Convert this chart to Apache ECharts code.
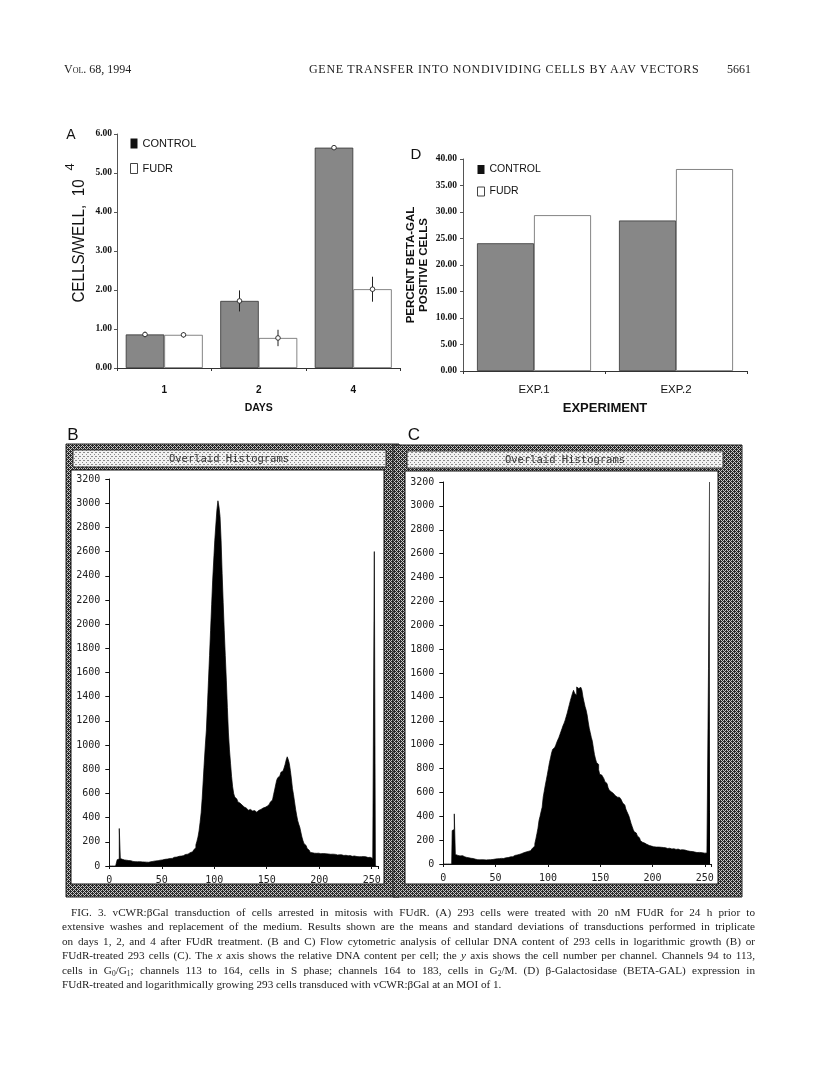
<!DOCTYPE html>
<html>
<head>
<meta charset="utf-8">
<script src="https://cdn.jsdelivr.net/npm/echarts/dist/echarts.min.js"></script>
<style>
  html, body { margin: 0; padding: 0; background: #fff; }
  #wrap { position: relative; width: 816px; height: 1077px; overflow: hidden; }
  #chart { position: absolute; left: 0; top: 0; width: 816px; height: 1077px; }
  .hdr { position: absolute; top: 62px; font-family: "Liberation Serif", serif; font-size: 12px; color: #222; white-space: nowrap; }
  .sc { font-variant: small-caps; }
  #caption { position: absolute; left: 62px; top: 905px; width: 693px; font-family: "Liberation Serif", serif; font-size: 11.2px; color: #222; }
  #caption div { height: 14.4px; line-height: 14.4px; white-space: nowrap; text-align: justify; text-align-last: justify; }
  #caption div.first { padding-left: 9px; }
  #caption div.last { text-align-last: left; }
  sub { font-size: 7.5px; vertical-align: -2px; line-height: 0; }
</style>
</head>
<body>
<div id="wrap">
  <div id="chart"></div>
  <div class="hdr sc" style="left:64px;">Vol. 68, 1994</div>
  <div class="hdr" style="left:309px; letter-spacing:0.7px;">GENE TRANSFER INTO NONDIVIDING CELLS BY AAV VECTORS</div>
  <div class="hdr" style="left:727px;">5661</div>
  <div id="caption">
    <div class="first">FIG. 3. vCWR:βGal transduction of cells arrested in mitosis with FUdR. (A) 293 cells were treated with 20 nM FUdR for 24 h prior to</div>
    <div>extensive washes and replacement of the medium. Results shown are the means and standard deviations of transductions performed in triplicate</div>
    <div>on days 1, 2, and 4 after FUdR treatment. (B and C) Flow cytometric analysis of cellular DNA content of 293 cells in logarithmic growth (B) or</div>
    <div>FUdR-treated 293 cells (C). The <i>x</i> axis shows the relative DNA content per cell; the <i>y</i> axis shows the cell number per channel. Channels 94 to 113,</div>
    <div>cells in G<sub>0</sub>/G<sub>1</sub>; channels 113 to 164, cells in S phase; channels 164 to 183, cells in G<sub>2</sub>/M. (D) β-Galactosidase (BETA-GAL) expression in</div>
    <div class="last">FUdR-treated and logarithmically growing 293 cells transduced with vCWR:βGal at an MOI of 1.</div>
  </div>
</div>
<script>
// ---------------- DATA ----------------
// Panel A: cells per well (x 10^4)
const dayCategories = ['1', '2', '4'];
const controlCells = [0.86, 1.72, 5.65];
const controlCellsSD = [0.07, 0.27, 0.02];
const fudrCells = [0.85, 0.77, 2.02];
const fudrCellsSD = [0.07, 0.21, 0.32];

// Panel D: percent beta-gal positive cells
const expCategories = ['EXP.1', 'EXP.2'];
const controlBetaGal = [24.1, 28.4];
const fudrBetaGal = [29.4, 38.1];

// Panel B: logarithmic growth, counts per channel 0..255
const histB = [
  0,0,0,0,0,0,0,0,52,58,
  310,62,55,58,50,54,48,52,45,47,
  44,40,42,38,36,38,34,35,33,36,
  32,34,31,33,30,32,34,31,33,35,
  36,38,35,40,42,39,44,46,48,50,
  50,47,52,55,53,58,56,60,62,65,
  63,68,72,70,74,78,75,80,82,79,
  85,90,88,95,100,98,105,110,112,118,
  125,135,150,175,205,240,290,360,440,560,
  710,860,1000,1124,1330,1537,1740,1950,2160,2364,
  2530,2694,2820,2942,3020,2970,2890,2694,2420,2180,
  1950,1740,1537,1310,1100,960,850,740,655,600,
  570,555,540,530,520,512,504,495,488,482,
  479,470,475,462,468,462,455,448,458,452,
  445,452,460,455,468,472,479,470,485,490,
  495,500,510,520,530,545,560,590,628,670,
  710,730,745,760,775,785,798,810,840,876,
  903,880,848,790,720,640,590,530,470,420,
  375,345,320,280,240,210,185,170,158,145,
  130,120,112,110,108,106,108,105,103,106,
  105,102,104,100,103,99,101,98,100,96,
  99,97,95,98,94,96,92,95,91,93,
  90,92,88,91,87,89,85,88,84,86,
  82,85,80,83,79,81,78,80,77,79,
  77,75,78,73,76,72,74,70,72,68,
  66,63,60,2600,0,0
];

// Panel C: FUdR-treated, counts per channel 0..255
const histC = [
  0,0,0,0,0,0,0,0,0,280,
  290,420,80,75,72,70,68,65,70,62,
  60,58,62,55,52,50,48,45,46,42,
  39,40,37,36,38,35,34,36,33,35,
  33,34,36,35,38,36,40,38,39,41,
  41,43,42,45,44,47,48,46,50,51,
  52,55,54,58,60,62,61,66,68,72,
  75,74,80,82,85,88,92,95,98,100,
  102,105,108,112,118,122,135,150,171,210,
  254,300,365,400,440,475,560,610,660,705,
  751,800,850,889,930,960,975,986,995,1020,
  1040,1060,1085,1110,1135,1160,1180,1205,1235,1265,
  1300,1335,1370,1400,1430,1455,1430,1414,1483,1470,
  1469,1480,1475,1455,1400,1359,1320,1290,1248,1190,
  1138,1100,1060,1028,970,917,880,850,834,790,
  751,745,740,737,715,690,675,660,640,620,
  605,600,592,585,580,572,568,560,558,545,
  540,525,510,495,480,460,440,420,400,370,
  340,315,290,270,260,250,235,220,205,195,
  190,182,175,170,165,160,157,155,152,150,
  148,145,147,142,144,140,142,138,140,137,
  138,135,136,132,134,130,132,128,130,126,
  128,124,126,122,125,120,122,118,120,116,
  114,117,112,110,113,108,106,109,104,102,
  100,98,96,99,94,97,92,95,90,93,
  91,89,92,102,1635,3200
];

// ---------------- STYLE CONSTANTS ----------------
const SANS = '"Liberation Sans", Arial, sans-serif';
const SERIF = '"Liberation Serif", "Times New Roman", serif';
const MONO = '"DejaVu Sans Mono", monospace';
const BAR_W_A = 38.5;
const BAR_W_D = 57;
const CONTROL_GRAY = '#878787';

function makePattern(bg, fg, pts, size) {
  const c = document.createElement('canvas');
  c.width = size; c.height = size;
  const g = c.getContext('2d');
  g.fillStyle = bg; g.fillRect(0, 0, size, size);
  g.fillStyle = fg;
  pts.forEach(p => g.fillRect(p[0], p[1], 1, 1));
  return c;
}
const darkPat = { image: makePattern('#c8c8c8', '#2a2a2a', [[0,0],[2,0],[1,1],[3,1],[0,2],[2,2],[1,3],[3,3],[0,1],[2,3]], 4), repeat: 'repeat' };
const lightPat = { image: makePattern('#f2f2f2', '#8a8a8a', [[0,0],[2,2],[3,0]], 4), repeat: 'repeat' };

const chart = echarts.init(document.getElementById('chart'), null, { renderer: 'canvas', width: 816, height: 1077 });

function errorItem(params, api) {
  const cat = api.value(0);
  const mean = api.value(1);
  const lo = api.value(2);
  const hi = api.value(3);
  const side = api.value(4);
  const pm = api.coord([cat, mean]);
  const x = pm[0] + side * BAR_W_A / 2;
  const yLo = api.coord([cat, lo])[1];
  const yHi = api.coord([cat, hi])[1];
  return {
    type: 'group',
    children: [
      { type: 'line', shape: { x1: x, y1: yHi, x2: x, y2: yLo }, style: { stroke: '#222', lineWidth: 1 } },
      { type: 'circle', shape: { cx: x, cy: pm[1], r: 2.3 }, style: { fill: '#fff', stroke: '#222', lineWidth: 0.9 } }
    ]
  };
}

const errData = [];
controlCells.forEach((m, i) => errData.push([i, m, m - controlCellsSD[i], m + controlCellsSD[i], -1]));
fudrCells.forEach((m, i) => errData.push([i, m, m - fudrCellsSD[i], m + fudrCellsSD[i], 1]));

const histAxisX = (gi) => ({
  gridIndex: gi, type: 'value', min: 0, max: 256, interval: 50,
  axisLine: { show: true, lineStyle: { color: '#111', width: 1 } },
  axisTick: { show: true, length: 3, lineStyle: { color: '#111' } },
  axisLabel: { margin: 9, fontFamily: MONO, fontSize: 10, color: '#222',
               formatter: v => (v % 50 === 0 ? String(v) : '') },
  splitLine: { show: false }
});
const histAxisY = (gi) => ({
  gridIndex: gi, type: 'value', min: 0, max: 3200, interval: 200,
  axisLine: { show: true, lineStyle: { color: '#111', width: 1 } },
  axisTick: { show: true, length: 4, lineStyle: { color: '#111' } },
  axisLabel: { margin: 9, fontFamily: MONO, fontSize: 10, color: '#222', formatter: v => String(v) },
  splitLine: { show: false }
});

const option = {
  animation: false,
  backgroundColor: '#fff',
  grid: [
    { left: 117, top: 134, width: 283.5, height: 234, containLabel: false },
    { left: 463, top: 159, width: 284, height: 212, containLabel: false },
    { left: 109.3, top: 479, width: 268.7, height: 387, containLabel: false },
    { left: 443.3, top: 482, width: 267.8, height: 382, containLabel: false }
  ],
  legend: [
    { left: 125, top: 133, orient: 'vertical', itemWidth: 7, itemHeight: 10, itemGap: 14,
      selectedMode: false, textStyle: { fontFamily: SANS, fontSize: 11, color: '#111' },
      data: [
        { name: 'CONTROL', icon: 'rect', itemStyle: { color: '#111', borderWidth: 0 } },
        { name: 'FUDR', icon: 'rect', itemStyle: { color: '#fff', borderColor: '#444', borderWidth: 1 } }
      ] },
    { left: 472, top: 159, orient: 'vertical', itemWidth: 7, itemHeight: 9, itemGap: 11,
      selectedMode: false, textStyle: { fontFamily: SANS, fontSize: 10.5, color: '#111' },
      data: [
        { name: 'CONTROL', icon: 'rect', itemStyle: { color: '#111', borderWidth: 0 } },
        { name: 'FUDR', icon: 'rect', itemStyle: { color: '#fff', borderColor: '#444', borderWidth: 1 } }
      ] }
  ],
  xAxis: [
    { gridIndex: 0, type: 'category', data: dayCategories,
      axisLine: { show: true, lineStyle: { color: '#333', width: 1 } },
      axisTick: { show: true, length: 3, lineStyle: { color: '#333' } },
      axisLabel: { margin: 17, fontFamily: SANS, fontWeight: 'bold', fontSize: 10, color: '#111' },
      name: 'DAYS', nameLocation: 'middle', nameGap: 35,
      nameTextStyle: { fontFamily: SANS, fontWeight: 'bold', fontSize: 10.5, color: '#111' } },
    { gridIndex: 1, type: 'category', data: expCategories,
      axisLine: { show: true, lineStyle: { color: '#333', width: 1 } },
      axisTick: { show: true, length: 3, lineStyle: { color: '#333' } },
      axisLabel: { margin: 13, fontFamily: SANS, fontSize: 11.5, color: '#111' },
      name: 'EXPERIMENT', nameLocation: 'middle', nameGap: 31,
      nameTextStyle: { fontFamily: SANS, fontWeight: 'bold', fontSize: 13, color: '#111' } },
    histAxisX(2),
    histAxisX(3)
  ],
  yAxis: [
    { gridIndex: 0, type: 'value', min: 0, max: 6, interval: 1,
      axisLine: { show: true, lineStyle: { color: '#555', width: 1 } },
      axisTick: { show: true, length: 3, lineStyle: { color: '#555' } },
      axisLabel: { margin: 5, fontFamily: SERIF, fontWeight: 'bold', fontSize: 9.5, color: '#111', formatter: v => v.toFixed(2) },
      splitLine: { show: false } },
    { gridIndex: 1, type: 'value', min: 0, max: 40, interval: 5,
      axisLine: { show: true, lineStyle: { color: '#555', width: 1 } },
      axisTick: { show: true, length: 3, lineStyle: { color: '#555' } },
      axisLabel: { margin: 6, fontFamily: SERIF, fontWeight: 'bold', fontSize: 9.5, color: '#111', formatter: v => v.toFixed(2) },
      splitLine: { show: false },
      name: 'PERCENT BETA-GAL\nPOSITIVE CELLS', nameLocation: 'middle', nameRotate: 90, nameGap: 33,
      nameTextStyle: { fontFamily: SANS, fontWeight: 'bold', fontSize: 11.5, lineHeight: 13, color: '#111' } },
    histAxisY(2),
    histAxisY(3)
  ],
  series: [
    { name: 'CONTROL', type: 'bar', xAxisIndex: 0, yAxisIndex: 0, data: controlCells,
      barWidth: BAR_W_A, barGap: '0%', itemStyle: { color: CONTROL_GRAY, borderColor: '#333', borderWidth: 0.8 } },
    { name: 'FUDR', type: 'bar', xAxisIndex: 0, yAxisIndex: 0, data: fudrCells,
      barWidth: BAR_W_A, barGap: '0%', itemStyle: { color: '#fff', borderColor: '#666', borderWidth: 0.8 } },
    { name: 'SD', type: 'custom', xAxisIndex: 0, yAxisIndex: 0, data: errData, renderItem: errorItem,
      encode: { x: 0, y: [1, 2, 3] }, z: 10, silent: true },
    { name: 'CONTROL', type: 'bar', xAxisIndex: 1, yAxisIndex: 1, data: controlBetaGal,
      barWidth: BAR_W_D, barGap: '0%', itemStyle: { color: CONTROL_GRAY, borderColor: '#333', borderWidth: 0.8 } },
    { name: 'FUDR', type: 'bar', xAxisIndex: 1, yAxisIndex: 1, data: fudrBetaGal,
      barWidth: BAR_W_D, barGap: '0%', itemStyle: { color: '#fff', borderColor: '#666', borderWidth: 0.8 } },
    { name: 'Logarithmic growth', type: 'line', xAxisIndex: 2, yAxisIndex: 2, step: 'middle', symbol: 'none',
      data: histB.map((v, i) => [i, v]),
      lineStyle: { color: '#000', width: 0.7 }, areaStyle: { color: '#000', opacity: 1 }, silent: true },
    { name: 'FUdR-treated', type: 'line', xAxisIndex: 3, yAxisIndex: 3, step: 'middle', symbol: 'none',
      data: histC.map((v, i) => [i, v]),
      lineStyle: { color: '#000', width: 0.7 }, areaStyle: { color: '#000', opacity: 1 }, silent: true }
  ],
  graphic: { elements: [
    // window frames for B and C
    { type: 'rect', z: -10, shape: { x: 66, y: 444, width: 333, height: 453 }, style: { fill: darkPat, stroke: '#222', lineWidth: 1 } },
    { type: 'rect', z: -9, shape: { x: 393, y: 445, width: 349, height: 452 }, style: { fill: darkPat, stroke: '#222', lineWidth: 1 } },
    { type: 'rect', z: -8, shape: { x: 73, y: 450, width: 313, height: 17 }, style: { fill: lightPat, stroke: '#333', lineWidth: 1 } },
    { type: 'rect', z: -8, shape: { x: 407, y: 451, width: 316, height: 17 }, style: { fill: lightPat, stroke: '#333', lineWidth: 1 } },
    { type: 'rect', z: -8, shape: { x: 71, y: 470, width: 313, height: 414 }, style: { fill: '#fff', stroke: '#111', lineWidth: 1 } },
    { type: 'rect', z: -8, shape: { x: 405, y: 471, width: 313, height: 413 }, style: { fill: '#fff', stroke: '#111', lineWidth: 1 } },
    { type: 'text', z: 5, x: 229, y: 459, style: { text: 'Overlaid Histograms', font: '10.5px ' + MONO, fill: '#333', align: 'center', verticalAlign: 'middle' } },
    { type: 'text', z: 5, x: 565, y: 460, style: { text: 'Overlaid Histograms', font: '10.5px ' + MONO, fill: '#333', align: 'center', verticalAlign: 'middle' } },
    // panel letters
    { type: 'text', x: 71, y: 135, style: { text: 'A', font: '14px ' + SANS, fill: '#111', align: 'center', verticalAlign: 'middle' } },
    { type: 'text', x: 416, y: 155, style: { text: 'D', font: '15px ' + SANS, fill: '#111', align: 'center', verticalAlign: 'middle' } },
    { type: 'text', x: 73, y: 435, style: { text: 'B', font: '17px ' + SANS, fill: '#111', align: 'center', verticalAlign: 'middle' } },
    { type: 'text', x: 414, y: 435, style: { text: 'C', font: '17px ' + SANS, fill: '#111', align: 'center', verticalAlign: 'middle' } },
    // panel A y-axis title
    { type: 'text', x: 79, y: 241, rotation: Math.PI / 2, scaleX: 0.92, scaleY: 1,
      style: { text: 'CELLS/WELL,  10', font: '16.5px ' + SANS, fill: '#111', align: 'center', verticalAlign: 'middle' } },
    { type: 'text', x: 70, y: 167, rotation: Math.PI / 2,
      style: { text: '4', font: '13px ' + SANS, fill: '#111', align: 'center', verticalAlign: 'middle' } }
  ] }
};
chart.setOption(option);
</script>
</body>
</html>
